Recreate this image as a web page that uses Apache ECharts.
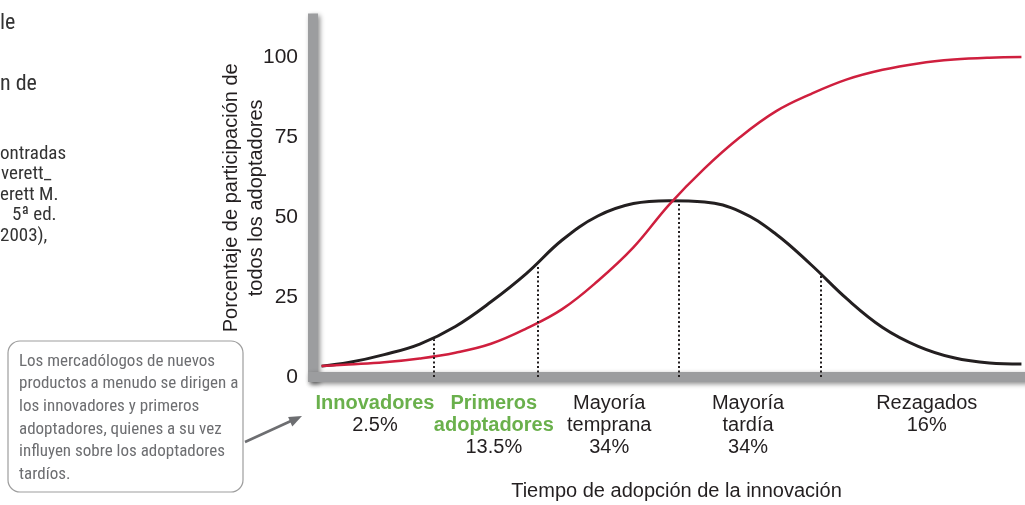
<!DOCTYPE html>
<html><head><meta charset="utf-8">
<script src="https://cdn.jsdelivr.net/npm/echarts@6/dist/echarts.min.js"></script>
<style>html,body{margin:0;padding:0;background:#fff}#c{width:1025px;height:505px}</style>
</head><body><div id="c"></div>
<script>
// Time of adoption (0-100 scale across the axis)
const timeX = [1.2, 5, 10, 15, 20, 25, 30, 35, 40, 45, 50, 55, 60, 65, 70, 75, 80, 85, 90, 95, 99.5];
const adoptersPct = [3.4, 4.5, 7.0, 10.3, 15.8, 23.5, 32.4, 42.8, 50.3, 54.2, 55.1, 54.7, 51.7, 44.7, 35.0, 24.4, 15.5, 9.6, 6.0, 4.4, 4.1];
const cumulativePct = [3.4, 3.9, 4.6, 5.8, 7.6, 10.4, 15.2, 21.2, 30.0, 40.5, 53.8, 65.2, 75.0, 83.0, 88.5, 93.0, 96.0, 98.0, 99.2, 99.8, 100];
const boundaryX = [17.0, 31.5, 51.4, 71.3];
const boundaryY = [11.8, 35.0, 55.2, 32.4];
const categoryNames = ['Innovadores', 'Primeros\nadoptadores', 'Mayoría\ntemprana', 'Mayoría\ntardía', 'Rezagados'];
const categoryShares = ['2.5%', '13.5%', '34%', '34%', '16%'];
const categoryCenters = [8.7, 25.4, 41.6, 61.1, 86.2];
const categoryGreen = [true, true, false, false, false];
const yTicks = [0, 25, 50, 75, 100];
const yTitle = 'Porcentaje de participación de\ntodos los adoptadores';
const xTitle = 'Tiempo de adopción de la innovación';
const noteText = 'Los mercadólogos de nuevos\nproductos a menudo se dirigen a\nlos innovadores y primeros\nadoptadores, quienes a su vez\ninfluyen sobre los adoptadores\ntardíos.';
const sideBig = ['le', 'n de'];
const sideSmall = ['ontradas', 'verett_', 'erett M.', '5ª ed.', '2003),'];

const SANS = "'Liberation Sans', Arial, sans-serif";
const NARROW = "'Liberation Sans Narrow', 'Arial Narrow', 'Roboto Condensed', 'Liberation Sans', sans-serif";
const chart = echarts.init(document.getElementById('c'), null, {renderer: 'canvas'});
const barStyle = {color: '#9c9d9f', width: 10, cap: 'square', shadowColor: 'rgba(0,0,0,0.45)', shadowBlur: 5, shadowOffsetX: 2, shadowOffsetY: 2};

const graphics = [];
graphics.push({type: 'text', x: 0, y: 23, style: {text: sideBig[0], font: '22px ' + NARROW, fill: '#333', verticalAlign: 'middle'}});
graphics.push({type: 'text', x: 0, y: 84, style: {text: sideBig[1], font: '22px ' + NARROW, fill: '#333', verticalAlign: 'middle'}});
const smallY = [154, 174.5, 195, 215.5, 236];
const smallX = [0, 1, 0, 12, 0];
sideSmall.forEach((t, i) => graphics.push({type: 'text', x: smallX[i], y: smallY[i], style: {text: t, font: '19px ' + NARROW, fill: '#333', verticalAlign: 'middle'}}));
graphics.push({type: 'rect', shape: {x: 8, y: 341, width: 235, height: 151, r: 12}, style: {fill: '#fff', stroke: '#9d9d9d', lineWidth: 1.2}});
graphics.push({type: 'text', x: 19, y: 350, style: {text: noteText, font: '17px ' + NARROW, fill: '#6d6e71', lineHeight: 22.7, verticalAlign: 'top'}});
graphics.push({type: 'line', shape: {x1: 245, y1: 442, x2: 292, y2: 420.5}, style: {stroke: '#6d6e71', lineWidth: 2.5}});
graphics.push({type: 'polygon', shape: {points: [[302, 416], [292.3, 426.4], [288.1, 416.9]]}, style: {fill: '#6d6e71'}});

function categoryLabel(i) {
  const s = categoryGreen[i] ? 'g' : 'n';
  return categoryNames[i].split('\n').map(t => '{' + s + '|' + t + '}').concat(['{n|' + categoryShares[i] + '}']).join('\n');
}

chart.setOption({
  animation: false,
  grid: {left: 313, right: 0, top: 18.6, bottom: 128, outerBoundsMode: 'none', containLabel: false},
  xAxis: {
    type: 'value', min: 0, max: 100,
    axisLine: {show: true, onZero: true, lineStyle: barStyle},
    axisTick: {show: false}, splitLine: {show: false}, axisLabel: {show: false},
    name: xTitle, nameLocation: 'middle', nameGap: 104, nameMoveOverlap: false,
    nameTextStyle: {fontSize: 20, color: '#231f20', fontFamily: SANS, padding: [0, 0, 0, 15]}
  },
  yAxis: {
    type: 'value', min: 0, max: 112, interval: 25,
    axisLine: {show: true, lineStyle: barStyle},
    axisTick: {show: false}, splitLine: {show: false},
    axisLabel: {
      margin: 15, fontSize: 21, color: '#231f20', fontFamily: SANS,
      formatter: v => yTicks.includes(v) ? String(v) : ''
    },
    name: yTitle, nameLocation: 'middle', nameGap: 44, nameMoveOverlap: false,
    nameTextStyle: {fontSize: 20, lineHeight: 25, color: '#231f20', fontFamily: SANS}
  },
  series: [
    {
      type: 'line', name: 'Adoptadores', smooth: 0.4, symbol: 'none', z: 3,
      data: timeX.map((x, i) => [x, adoptersPct[i]]),
      lineStyle: {color: '#231f20', width: 3}
    },
    {
      type: 'line', name: 'Acumulado', smooth: 0.4, symbol: 'none', z: 4,
      data: timeX.map((x, i) => [x, cumulativePct[i]]),
      lineStyle: {color: '#cf1f3e', width: 2.5}
    },
    {
      type: 'line', name: 'Límites', data: [], symbol: 'none', z: 2,
      markLine: {
        silent: true, symbol: ['none', 'none'], label: {show: false},
        lineStyle: {type: [2, 2.5], color: '#231f20', width: 2},
        data: boundaryX.map((x, i) => [{coord: [x, 0]}, {coord: [x, boundaryY[i]]}])
      }
    },
    {
      type: 'scatter', name: 'Categorías', symbolSize: 2, silent: true, clip: false, z: 5,
      itemStyle: {color: 'rgba(255,255,255,0)'},
      data: categoryCenters.map((x, i) => ({value: [x, 0], label: {formatter: categoryLabel(i)}})),
      label: {
        show: true, position: 'bottom', distance: 14, color: '#231f20', opacity: 1,
        textBorderWidth: 0, textShadowBlur: 0,
        rich: {
          g: {color: '#6ab04c', fontWeight: 'bold', fontSize: 20, lineHeight: 22, fontFamily: SANS, align: 'center', opacity: 1},
          n: {color: '#231f20', fontSize: 20, lineHeight: 22, fontFamily: SANS, align: 'center', opacity: 1}
        }
      },
      labelLayout: {hideOverlap: false}
    }
  ],
  graphic: graphics
});
</script>
</body></html>
